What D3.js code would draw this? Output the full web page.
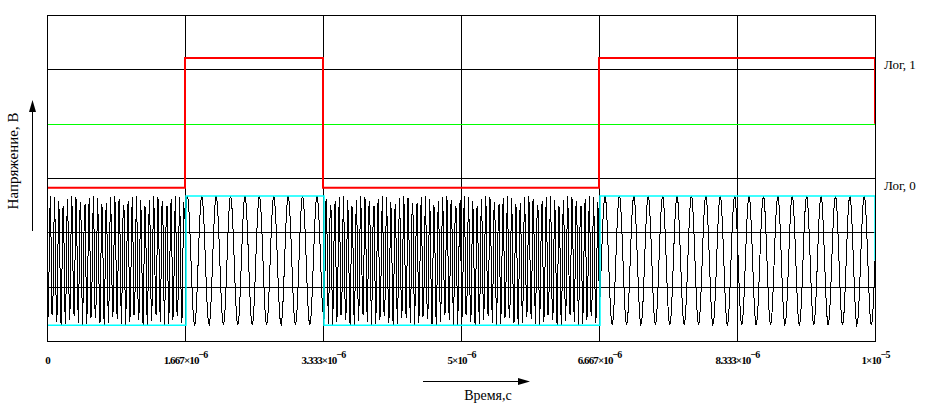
<!DOCTYPE html>
<html>
<head>
<meta charset="utf-8">
<script src="https://cdn.jsdelivr.net/npm/d3@7"></script>
<style>
  body { margin: 0; background: #fff; }
  svg { display: block; }
  text { font-family: "Liberation Serif", "Times New Roman", Times, serif; fill: #000; }
</style>
</head>
<body>
<div id="plot"></div>
<script>
var margin = { top: 15, right: 54, bottom: 74, left: 47 },
    width = 929 - margin.left - margin.right,
    height = 415 - margin.top - margin.bottom;

// data
var bits = [0, 1, 0, 0, 1, 1];
var tEnd = 1e-5;
var tickValues = [0, 1.667e-6, 3.333e-6, 5e-6, 6.667e-6, 8.333e-6, 1e-5];
var tickMant = ["0", "1.667", "3.333", "5", "6.667", "8.333", "1"];
var tickExp = ["", "-6", "-6", "-6", "-6", "-6", "-5"];
var redLevels = [-0.18, 2.21], redEnd = 1.0;
var cyanLevels = [-2.71, -0.33], cyanEnd = -1.52, cyanDelay = 1.2e-8;
var threshold = 1.0;
var sigCenter = -1.52, sigAmp = 1.19;
var freqs = [19.2e6, 5.75e6];   // bit 0 -> high freq, bit 1 -> low freq
var nSamples = 1000;

var tBit = tEnd / bits.length;

var x = d3.scaleLinear().domain([0, tEnd]).range([0, width]);
var y = d3.scaleLinear().domain([-3, 3]).range([height, 0]);

var svg = d3.select("#plot").append("svg")
    .attr("width", 929)
    .attr("height", 415);

var g = svg.append("g")
    .attr("transform", "translate(" + margin.left + "," + margin.top + ")");

// grid
g.append("g").selectAll("line")
    .data(tickValues).enter().append("line")
    .attr("x1", function(d) { return Math.round(x(d)) + 0.5; })
    .attr("x2", function(d) { return Math.round(x(d)) + 0.5; })
    .attr("y1", 0).attr("y2", height)
    .attr("stroke", "#000").attr("stroke-width", 1)
    .attr("shape-rendering", "crispEdges");

g.append("g").selectAll("line")
    .data(d3.range(-3, 4)).enter().append("line")
    .attr("x1", 0).attr("x2", width)
    .attr("y1", function(d) { return Math.round(y(d)) + 0.5; })
    .attr("y2", function(d) { return Math.round(y(d)) + 0.5; })
    .attr("stroke", "#000").attr("stroke-width", 1)
    .attr("shape-rendering", "crispEdges");

// x axis labels
var xAxis = d3.axisBottom(x).tickValues(tickValues).tickSize(0).tickFormat("");
var ax = g.append("g")
    .attr("transform", "translate(0," + height + ")")
    .call(xAxis);
ax.select(".domain").remove();
ax.selectAll(".tick text")
    .attr("y", 23).attr("dy", 0)
    .attr("fill", "#000")
    .attr("font-family", "Liberation Serif, serif")
    .style("font-weight", "bold")
    .style("font-size", "11px")
    .style("letter-spacing", "-0.9px")
    .each(function(d, i) {
        var t = d3.select(this);
        if (!tickExp[i]) { t.text(tickMant[i]); return; }
        t.append("tspan").text(tickMant[i] + "\u00d710");
        t.append("tspan").attr("dy", -6).style("font-size", "10px")
            .text(tickExp[i].replace("-", "\u2212"));
    });

// signal (FSK)
var sig = d3.range(nSamples + 1).map(function(i) {
    var t = tEnd * i / nSamples;
    var b = bits[Math.min(bits.length - 1, Math.floor(t / tBit))];
    return { t: t, v: sigCenter - sigAmp * Math.sin(2 * Math.PI * freqs[b] * t) };
});

var line = d3.line()
    .x(function(d) { return x(d.t); })
    .y(function(d) { return y(d.v); });

g.append("path")
    .datum(sig)
    .attr("fill", "none")
    .attr("stroke", "#000")
    .attr("stroke-width", 1)
    .attr("shape-rendering", "crispEdges")
    .attr("d", line);

// threshold
g.append("line")
    .datum(threshold)
    .attr("x1", x(0)).attr("x2", x(tEnd))
    .attr("y1", function(d) { return Math.round(y(d)) + 0.5; })
    .attr("y2", function(d) { return Math.round(y(d)) + 0.5; })
    .attr("stroke", "#00ff00")
    .attr("stroke-width", 1)
    .attr("shape-rendering", "crispEdges");

// demodulated level (cyan)
var cyan = bits.map(function(b, i) { return { t: i * tBit + (i ? cyanDelay : 0), v: cyanLevels[b] }; });
cyan.push({ t: tEnd, v: cyanLevels[bits[bits.length - 1]] });
var stepLine = d3.line()
    .x(function(d) { return x(d.t); })
    .y(function(d) { return y(d.v); })
    .curve(d3.curveStepAfter);
g.append("path")
    .datum(cyan)
    .attr("fill", "none")
    .attr("stroke", "#00ffff")
    .attr("stroke-width", 1.5)
    .attr("d", stepLine);
g.append("path")
    .datum([cyan[cyan.length - 1], { t: tEnd, v: cyanEnd }])
    .attr("fill", "none")
    .attr("stroke", "#00ffff")
    .attr("stroke-width", 1.5)
    .attr("d", line);

// data bits (red)
var red = bits.map(function(b, i) { return { t: i * tBit, v: redLevels[b] }; });
red.push({ t: tEnd, v: redLevels[bits[bits.length - 1]] });
g.append("path")
    .datum(red)
    .attr("fill", "none")
    .attr("stroke", "#ff0000")
    .attr("stroke-width", 2)
    .attr("d", stepLine);
g.append("path")
    .datum([red[red.length - 1], { t: tEnd, v: redEnd }])
    .attr("fill", "none")
    .attr("stroke", "#ff0000")
    .attr("stroke-width", 2)
    .attr("d", line);

// frame
g.append("rect")
    .attr("x", 0.5).attr("y", 0.5)
    .attr("width", width).attr("height", height)
    .attr("fill", "none").attr("stroke", "#000")
    .attr("shape-rendering", "crispEdges");

// right labels
g.append("text").attr("x", width + 9).attr("y", y(redLevels[1]) + 11)
    .style("font-size", "13px").text("Лог, 1");
g.append("text").attr("x", width + 9).attr("y", y(redLevels[0]) + 2)
    .style("font-size", "13px").text("Лог, 0");

// y axis title + arrow
svg.append("text")
    .attr("transform", "translate(18,161) rotate(-90)")
    .style("text-anchor", "middle")
    .style("font-size", "15px")
    .text("Напряжение, В");
svg.append("line").attr("x1", 32.5).attr("x2", 32.5).attr("y1", 231).attr("y2", 106)
    .attr("stroke", "#000").attr("shape-rendering", "crispEdges");
svg.append("path").attr("d", "M32.5,100 L29,112 L36,112 Z").attr("fill", "#000");

// x axis title + arrow
svg.append("line").attr("x1", 423).attr("x2", 522).attr("y1", 381.5).attr("y2", 381.5)
    .attr("stroke", "#000").attr("shape-rendering", "crispEdges");
svg.append("path").attr("d", "M530,381.5 L518,378 L518,385 Z").attr("fill", "#000");
svg.append("text")
    .attr("x", 488).attr("y", 400)
    .style("text-anchor", "middle")
    .style("font-size", "14px")
    .text("Время,с");
</script>
</body>
</html>
